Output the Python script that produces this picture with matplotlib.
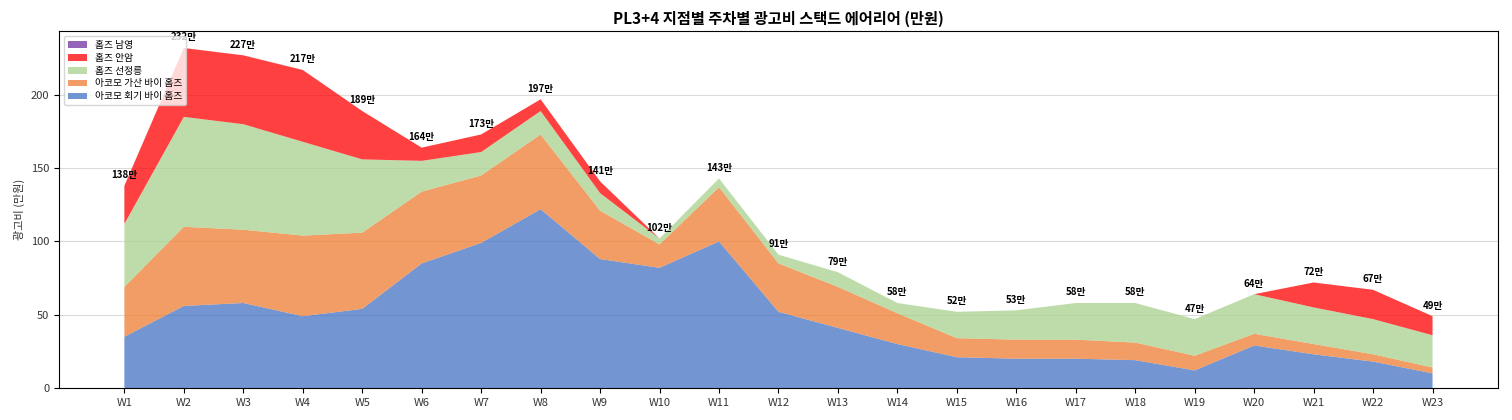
import matplotlib
matplotlib.use("Agg")
import matplotlib.pyplot as plt
import numpy as np

plt.rcParams['font.family'] = ['Noto Sans CJK KR', 'DejaVu Sans']

weeks = [f"W{i}" for i in range(1, 24)]
hoegi = [35, 56, 58, 49, 54, 85, 99, 122, 88, 82, 100, 52, 41, 30, 21, 20, 20, 19, 12, 29, 23, 18, 10]
gasan = [34, 54, 50, 55, 52, 49, 46, 51, 33, 16, 37, 33, 28, 21, 13, 13, 13, 12, 10, 8, 7, 5, 4]
seonjeong = [43, 75, 72, 64, 50, 21, 16, 16, 12, 4, 6, 6, 10, 7, 18, 20, 25, 27, 25, 27, 25, 24, 22]
anam = [26, 47, 47, 49, 33, 9, 12, 8, 8, 0, 0, 0, 0, 0, 0, 0, 0, 0, 0, 0, 17, 20, 13]
namyeong = [0] * 23

series_names = ["아코모 회기 바이 홈즈", "아코모 가산 바이 홈즈", "홈즈 선정릉", "홈즈 안암", "홈즈 남영"]
series_vals = [hoegi, gasan, seonjeong, anam, namyeong]
colors = ["#4472C4", "#ED7D31", "#A9D18E", "#FF0000", "#7030A0"]

fig = plt.figure(figsize=(15.12, 4.2), dpi=100)
ax = fig.add_axes([0.039, 0.0762, 0.9517, 0.8500])

x = np.arange(len(weeks))
ax.stackplot(x, *series_vals, labels=series_names, colors=colors, alpha=0.75)

totals = np.sum(np.array(series_vals), axis=0)
for xi, t in zip(x, totals):
    ax.annotate(f"{int(t)}만", (xi, t), xytext=(0, 4), textcoords="offset points",
                ha="center", va="bottom", fontsize=7, fontweight="bold")

ax.set_xticks(x)
ax.set_xticklabels(weeks, fontsize=8, color="#333333")
ax.tick_params(axis="y", labelsize=8, labelcolor="#333333")
ax.set_ylabel("광고비 (만원)", fontsize=8, color="#333333")
ax.set_title("PL3+4 지점별 주차별 광고비 스택드 에어리어 (만원)", fontsize=11, fontweight="bold", pad=5)
ax.yaxis.grid(True, color="#cccccc", alpha=0.7, linewidth=0.8)
ax.set_axisbelow(True)

handles, labels = ax.get_legend_handles_labels()
ax.legend(handles[::-1], labels[::-1], loc="upper left", fontsize=7, labelspacing=0.3)

fig.savefig("out.png", dpi=100)
